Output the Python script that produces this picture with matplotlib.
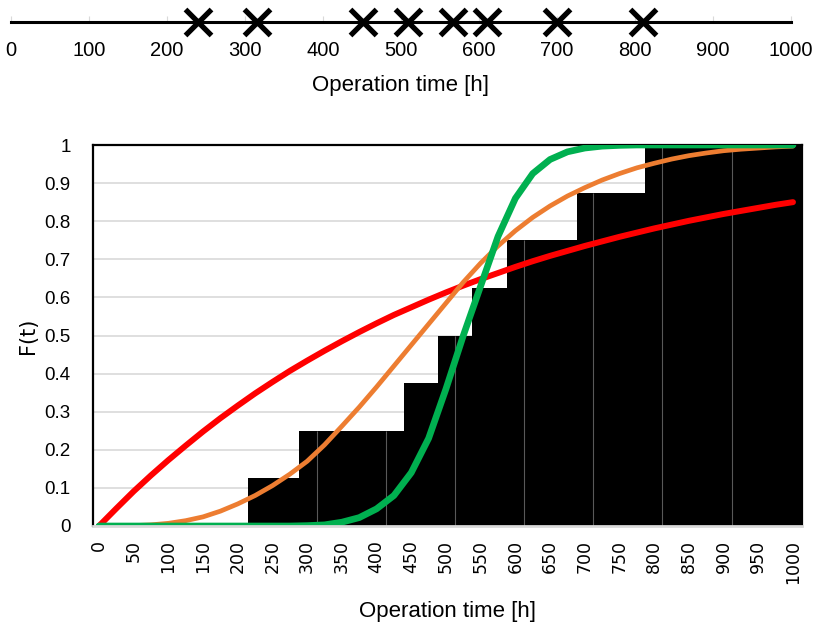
import matplotlib.pyplot as plt
import numpy as np

# curve values every 25 h
hours = list(range(0, 1001, 25))
red_cdf = [0, 0.046, 0.091, 0.133, 0.173, 0.211, 0.248, 0.283, 0.316, 0.348,
           0.378, 0.407, 0.434, 0.46, 0.485, 0.509, 0.532, 0.554, 0.574, 0.594,
           0.613, 0.631, 0.648, 0.664, 0.68, 0.695, 0.709, 0.722, 0.735, 0.747,
           0.759, 0.77, 0.781, 0.791, 0.801, 0.81, 0.819, 0.827, 0.835, 0.843, 0.85]
orange_cdf = [0, 0.0001, 0.001, 0.003, 0.007, 0.014, 0.024, 0.039, 0.058, 0.08,
              0.106, 0.136, 0.17, 0.213, 0.262, 0.312, 0.365, 0.42, 0.475, 0.53,
              0.585, 0.64, 0.69, 0.735, 0.775, 0.81, 0.84, 0.866, 0.888, 0.908,
              0.925, 0.94, 0.952, 0.963, 0.972, 0.979, 0.985, 0.989, 0.992, 0.995, 0.997]
green_cdf = [0, 0, 0, 0, 0, 0, 0, 0, 0, 0,
             0, 0, 0.001, 0.003, 0.01, 0.022, 0.045, 0.08, 0.14, 0.23,
             0.36, 0.5, 0.63, 0.76, 0.86, 0.925, 0.962, 0.982, 0.992, 0.997,
             0.999, 1, 1, 1, 1, 1, 1, 1, 1, 1, 1]
tick_hours = list(range(0, 1001, 50))

# observed failures (top strip)
failure_times = [240, 315, 451, 509, 567, 610, 700, 810]

# empirical distribution (black steps)
step_starts = [215, 288, 439, 488, 537, 588, 689, 787]
step_levels = [0.125, 0.25, 0.375, 0.5, 0.625, 0.75, 0.875, 1.0]
bar_edges = [314, 414, 513, 612, 712, 811, 912]

plt.rcParams['font.family'] = ['Liberation Sans', 'DejaVu Sans']

fig = plt.figure(figsize=(8.15, 6.25), dpi=100)
W, H = 815, 625

# ---- top strip with failure markers
ax_top = fig.add_axes([11 / W, (H - 22) / H, 780 / W, 20 / H])
ax_top.set_xlim(0, 1000)
ax_top.set_ylim(0, 1)
for s in ['top', 'left', 'right']:
    ax_top.spines[s].set_visible(False)
ax_top.spines['bottom'].set_linewidth(2.2)
ax_top.spines['bottom'].set_color('black')
ax_top.plot(failure_times, [0] * len(failure_times), linestyle='none', marker='x',
            ms=19, mew=3.8, color='black', clip_on=False, zorder=5)
ax_top.set_xticks(range(0, 1001, 100))
ax_top.tick_params(axis='x', direction='in', length=4, color='#D9D9D9', pad=14, labelsize=14.5)
ax_top.set_yticks([])
ax_top.patch.set_alpha(0)
fig.text(401 / W, 1 - 86 / H, 'Operation time [h]', ha='center', va='center', fontsize=16)

# ---- main chart
ax = fig.add_axes([93 / W, (H - 526) / H, (802 - 93) / W, (526 - 145) / H])
ax.set_xlim(-8.6, 1013)
ax.set_ylim(0, 1)

ax.set_yticks(np.arange(0, 1.01, 0.1))
ax.set_yticklabels(['0', '0.1', '0.2', '0.3', '0.4', '0.5', '0.6', '0.7', '0.8', '0.9', '1'])
ax.yaxis.grid(True, color='#D9D9D9', lw=1.2, zorder=0)
ax.set_axisbelow(True)
ax.tick_params(axis='y', length=0, pad=16, labelsize=13.5)

ax.set_xticks(tick_hours)
ax.set_xticklabels([str(h) for h in tick_hours], rotation=90, family='DejaVu Sans')
ax.tick_params(axis='x', length=0, pad=10, labelsize=12.5)

x_fill = step_starts + [1013]
y_fill = step_levels + [step_levels[-1]]
ax.fill_between(x_fill, 0, y_fill, step='post', color='black', lw=0, zorder=1)
for e in bar_edges:
    lvl = step_levels[np.searchsorted(step_starts, e, side='right') - 1]
    ax.vlines(e, 0, lvl, color='#595959', lw=0.8, zorder=1.5)

ax.plot(hours, red_cdf, color='#FF0000', lw=4.3, solid_capstyle='round', zorder=3)
ax.plot(hours, orange_cdf, color='#ED7D31', lw=3.4, solid_capstyle='round', zorder=3.5)
ax.plot(hours, green_cdf, color='#00B050', lw=4.8, solid_capstyle='round', zorder=4)

for s in ['top', 'left', 'right']:
    ax.spines[s].set_color('black')
    ax.spines[s].set_linewidth(1.6)
ax.spines['bottom'].set_color('#D9D9D9')
ax.spines['bottom'].set_linewidth(2)
ax.spines['bottom'].set_zorder(5)

ax.set_ylabel('F(t)', fontsize=15, family='DejaVu Sans', labelpad=5)
ax.set_xlabel('Operation time [h]', fontsize=16, labelpad=12)

fig.savefig('out.png', dpi=100)
